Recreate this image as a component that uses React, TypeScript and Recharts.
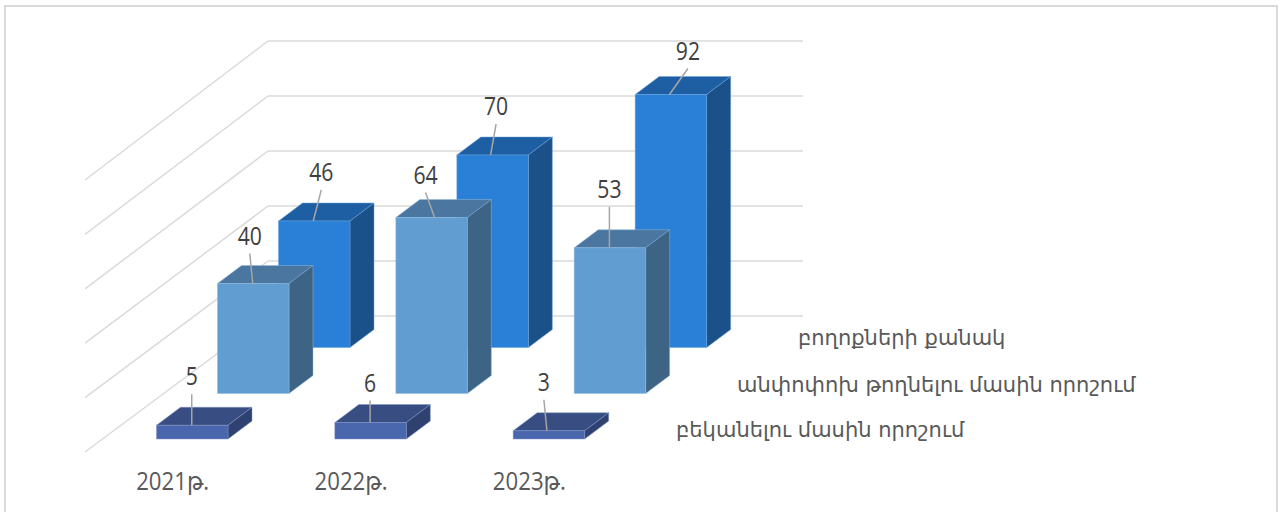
import { Bar, BarChart, CartesianGrid, Customized, LabelList, XAxis, YAxis } from "recharts";

const categories = ["2021թ.", "2022թ.", "2023թ."];
const complaints = [46, 70, 92];
const unchanged = [40, 64, 53];
const overturned = [5, 6, 3];
const yTicks = [0, 20, 40, 60, 80, 100];

const DIGIT_FONT = '"Open Sans", "DejaVu Sans", sans-serif';
const TEXT_FONT = '"DejaVu Sans", sans-serif';
const DIGIT_WIDTH = 12.1;
const DEPTH_X = 24;
const DEPTH_Y = 18;
const GRID_COLOR = "#dadada";

// leader line per bar: [base dx, tip dx, tip dy] from the centre of the top edge
const backLeaders = [[-1, 7, -31], [-2, 3.5, -31], [-1.5, 17, -26]];
const middleLeaders = [[-0.5, -3.5, -30], [3, -6, -25], [-0.5, -0.5, -41]];
const frontLeaders = [[-0.5, -0.5, -31], [-0.5, -0.5, -22], [-2, -5, -31]];

const rows = [
  { key: "complaints", name: "բողոքների քանակ", dx: -42.5, dy: 31.5, front: "#2980d6", top: "#1e5fa3", side: "#1a5188", edge: "#6ba5e0", leaders: backLeaders, nameX: 798, nameY: 345 },
  { key: "unchanged", name: "անփոփոխ թողնելու մասին որոշում", dx: -103.5, dy: 77.5, front: "#629dd1", top: "#4a76a0", side: "#3e6485", edge: "#8fbbe0", leaders: middleLeaders, nameX: 737, nameY: 392 },
  { key: "overturned", name: "բեկանելու մասին որոշում", dx: -164.5, dy: 123, front: "#4a66ac", top: "#384d81", side: "#2f4171", edge: "#7f95c8", leaders: frontLeaders, nameX: 676, nameY: 437 },
];

const data = categories.map((year, i) => ({
  year,
  complaints: complaints[i],
  unchanged: unchanged[i],
  overturned: overturned[i],
}));

function boxShape(row: (typeof rows)[number]) {
  return (props: any) => {
    const x = props.x + row.dx;
    const y = props.y + row.dy;
    const { width: w, height: h } = props;
    const r = x + w;
    const b = y + h;
    return (
      <g stroke={row.edge} strokeOpacity={0.6} strokeWidth={0.8}>
        <polygon points={`${x},${y} ${x + DEPTH_X},${y - DEPTH_Y} ${r + DEPTH_X},${y - DEPTH_Y} ${r},${y}`} fill={row.top} />
        <polygon points={`${r},${y} ${r + DEPTH_X},${y - DEPTH_Y} ${r + DEPTH_X},${b - DEPTH_Y} ${r},${b}`} fill={row.side} />
        <rect x={x} y={y} width={w} height={h} fill={row.front} />
      </g>
    );
  };
}

function leaderLabel(row: (typeof rows)[number]) {
  return (props: any) => {
    const [baseDx, tipDx, tipDy] = row.leaders[props.index];
    const cx = props.x + props.width / 2 + row.dx;
    const y = props.y + row.dy;
    const digits = String(props.value).length;
    return (
      <g>
        <line x1={cx + baseDx} y1={y} x2={cx + tipDx} y2={y + tipDy} stroke="#a6a6a6" strokeWidth={1.5} />
        <text
          x={cx + tipDx}
          y={y + tipDy - 9}
          textAnchor="middle"
          fontFamily={DIGIT_FONT}
          fontSize={25}
          fill="#404040"
          textLength={digits * DIGIT_WIDTH}
          lengthAdjust="spacingAndGlyphs"
        >
          {props.value}
        </text>
      </g>
    );
  };
}

// back wall line plus its run along the side wall
function gridLine(props: any) {
  const { x1, x2, y1 } = props;
  const drop = 136 + ((316 - y1) * 3) / 275;
  return (
    <g key={y1} stroke={GRID_COLOR} strokeWidth={1.5}>
      <line x1={x1} y1={y1} x2={x2} y2={y1} />
      <line x1={x1} y1={y1} x2={85} y2={y1 + drop} />
    </g>
  );
}

function YearTick(props: any) {
  return (
    <text
      x={props.x - 221}
      y={490}
      fill="#595959"
      fontFamily={DIGIT_FONT}
      fontSize={25}
      textLength={73}
      lengthAdjust="spacingAndGlyphs"
    >
      {props.payload.value}
    </text>
  );
}

function EmptyTick() {
  return <g />;
}

function SeriesNames() {
  return (
    <g>
      {rows.map((row) => (
        <text key={row.key} x={row.nameX} y={row.nameY} fontFamily={TEXT_FONT} fontSize={21} fill="#595959">
          {row.name}
        </text>
      ))}
    </g>
  );
}

export default function App() {
  return (
    <div style={{ position: "absolute", left: 0, top: 0, width: 1283, height: 512, overflow: "hidden" }}>
      <div
        style={{
          position: "absolute",
          left: 4,
          top: 5,
          width: 1274,
          height: 507,
          border: "2px solid #d9d9d9",
          borderBottom: "none",
          boxSizing: "border-box",
        }}
      />
      <BarChart
        width={1283}
        height={512}
        data={data}
        margin={{ top: 41, right: 480, bottom: 195, left: 267 }}
        barSize={71.5}
        barGap={-71.5}
        style={{ position: "absolute", left: 0, top: 0 }}
      >
        <CartesianGrid vertical={false} horizontal={gridLine} />
        <XAxis dataKey="year" height={1} axisLine={false} tickLine={false} tick={<YearTick />} interval={0} />
        <YAxis width={1} domain={[0, 100]} ticks={yTicks} axisLine={false} tickLine={false} tick={<EmptyTick />} />
        {rows.map((row) => (
          <Bar key={row.key} dataKey={row.key} isAnimationActive={false} shape={boxShape(row)}>
            <LabelList dataKey={row.key} content={leaderLabel(row)} />
          </Bar>
        ))}
        <Customized component={SeriesNames} />
      </BarChart>
    </div>
  );
}
